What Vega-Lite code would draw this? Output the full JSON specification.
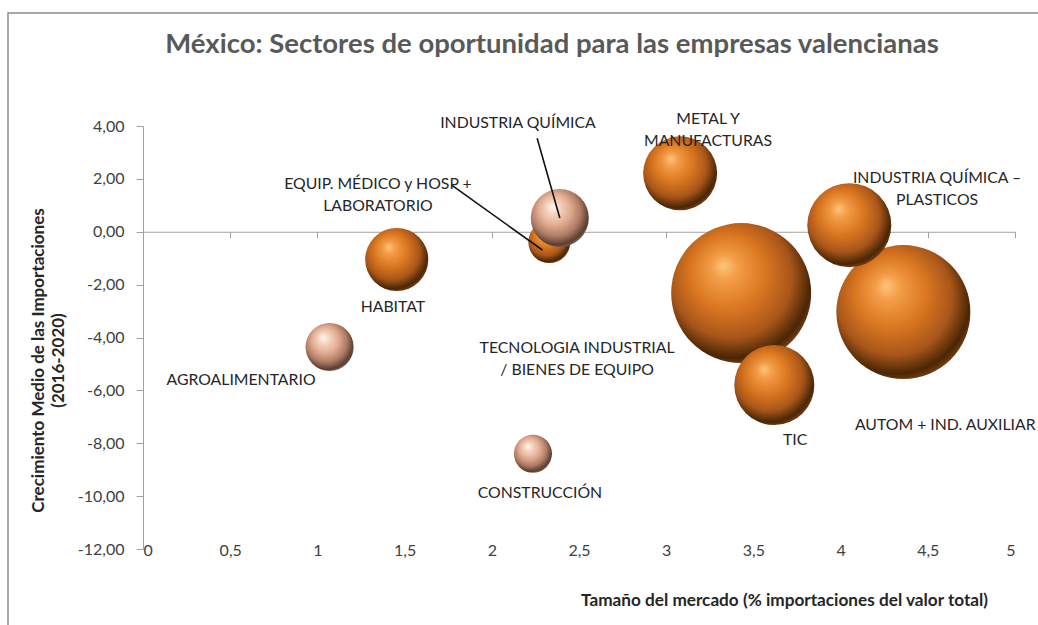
{
  "$schema": "https://vega.github.io/schema/vega-lite/v6.json",
  "width": 1060,
  "height": 630,
  "padding": {"left": 8, "top": 13, "right": 0, "bottom": 0},
  "background": "white",
  "title": {
    "text": "México: Sectores de oportunidad para las empresas valencianas",
    "font": "Lato",
    "fontSize": 27.5,
    "fontWeight": "bold",
    "color": "#595959",
    "anchor": "middle",
    "offset": -45,
    "dx": 14
  },
  "config": {
    "locale": {"number": {"decimal": ",", "thousands": ".", "grouping": [3], "currency": ["", " €"], "minus": "-"}},
    "view": {"stroke": "#8a8a8a", "strokeWidth": 1.5},
    "font": "Lato"
  },
  "datasets": {
    "sectores": [
      {"sector": "TECNOLOGIA INDUSTRIAL / BIENES DE EQUIPO", "mercado": 3.43, "crecimiento": -2.32, "tamano": 100},
      {"sector": "AUTOM + IND. AUXILIAR", "mercado": 4.36, "crecimiento": -3.04, "tamano": 91.6},
      {"sector": "INDUSTRIA QUÍMICA – PLASTICOS", "mercado": 4.05, "crecimiento": 0.25, "tamano": 36},
      {"sector": "TIC", "mercado": 3.62, "crecimiento": -5.8, "tamano": 32.7},
      {"sector": "METAL Y MANUFACTURAS", "mercado": 3.08, "crecimiento": 2.21, "tamano": 27.9},
      {"sector": "HABITAT", "mercado": 1.455, "crecimiento": -1.05, "tamano": 20.3},
      {"sector": "INDUSTRIA QUÍMICA", "mercado": 2.39, "crecimiento": 0.52, "tamano": 17.2},
      {"sector": "AGROALIMENTARIO", "mercado": 1.07, "crecimiento": -4.36, "tamano": 11.8},
      {"sector": "EQUIP. MÉDICO y HOSP + LABORATORIO", "mercado": 2.33, "crecimiento": -0.39, "tamano": 9},
      {"sector": "CONSTRUCCIÓN", "mercado": 2.236, "crecimiento": -8.4, "tamano": 7.4}
    ],
    "etiquetas": [
      {"etiqueta": "AGROALIMENTARIO", "x": 0.562, "y": -5.605},
      {"etiqueta": "HABITAT", "x": 1.433, "y": -2.846},
      {"etiqueta": "CONSTRUCCIÓN", "x": 2.276, "y": -9.877},
      {"etiqueta": "TECNOLOGIA INDUSTRIAL\n/ BIENES DE EQUIPO", "x": 2.489, "y": -4.395},
      {"etiqueta": "TIC", "x": 3.739, "y": -7.873},
      {"etiqueta": "AUTOM + IND. AUXILIAR", "x": 4.6, "y": -7.306},
      {"etiqueta": "INDUSTRIA QUÍMICA –\nPLASTICOS", "x": 4.553, "y": 2.023},
      {"etiqueta": "METAL Y\nMANUFACTURAS", "x": 3.24, "y": 4.262},
      {"etiqueta": "INDUSTRIA QUÍMICA", "x": 2.15, "y": 4.11},
      {"etiqueta": "EQUIP. MÉDICO y HOSP +\nLABORATORIO", "x": 1.347, "y": 1.824}
    ],
    "guias": [
      {"x": 2.26, "y": 3.54, "x2": 2.39, "y2": 0.52},
      {"x": 1.77, "y": 1.76, "x2": 2.29, "y2": -0.69}
    ]
  },
  "resolve": {"axis": {"x": "independent", "y": "independent"}},
  "layer": [
    {
      "data": {"name": "sectores"},
      "transform": [{"filter": {"not": {"field": "sector", "oneOf": ["INDUSTRIA QUÍMICA", "AGROALIMENTARIO", "CONSTRUCCIÓN"]}}}],
      "mark": {
        "type": "point",
        "shape": "circle",
        "filled": true,
        "opacity": 1,
        "strokeWidth": 0,
        "fill": {
          "gradient": "radial",
          "x1": 0.37, "y1": 0.3, "r1": 0,
          "x2": 0.45, "y2": 0.42, "r2": 0.6,
          "stops": [
            {"offset": 0, "color": "#fdc57e"},
            {"offset": 0.16, "color": "#f49c46"},
            {"offset": 0.45, "color": "#d97620"},
            {"offset": 0.72, "color": "#a9561a"},
            {"offset": 0.92, "color": "#4a2605"},
            {"offset": 1, "color": "#7a4214"}
          ]
        }
      },
      "encoding": {
        "x": {
          "field": "mercado", "type": "quantitative",
          "scale": {"domain": [0, 5], "range": [135, 1007], "nice": false, "zero": false},
          "axis": {
            "orient": "bottom", "offset": -102,
            "values": [0, 0.5, 1, 1.5, 2, 2.5, 3, 3.5, 4, 4.5, 5],
            "format": ".1~f",
            "domain": false, "ticks": false, "grid": false,
            "labelPadding": 1, "labelFont": "Lato", "labelFontSize": 16, "labelColor": "#404040",
            "title": "Tamaño del mercado (% importaciones del valor total)",
            "titleFont": "Lato", "titleFontSize": 17.2, "titleFontWeight": "bold", "titleColor": "#262626",
            "titleX": 776, "titleY": 59, "titleAlign": "center", "titleBaseline": "middle"
          }
        },
        "y": {
          "field": "crecimiento", "type": "quantitative",
          "scale": {"domain": [-12, 4], "range": [536, 113], "nice": false, "zero": false},
          "axis": {
            "orient": "left", "offset": -135,
            "values": [-12, -10, -8, -6, -4, -2, 0, 2, 4],
            "format": ".2f",
            "grid": false,
            "domainColor": "#a0a0a0", "tickColor": "#a0a0a0", "tickSize": 7,
            "labelPadding": 12, "labelFont": "Lato", "labelFontSize": 16, "labelColor": "#404040",
            "title": ["Crecimiento Medio de las Importaciones", "(2016-2020)"],
            "titleFont": "Lato", "titleFontSize": 17, "titleFontWeight": "bold", "titleColor": "#262626",
            "titleLineHeight": 20,
            "titleX": -105, "titleY": 347, "titleAlign": "center", "titleBaseline": "middle", "titleAngle": -90
          }
        },
        "size": {"field": "tamano", "type": "quantitative", "scale": {"type": "linear", "domain": [0, 100], "range": [0, 19600]}, "legend": null},
        "order": {"field": "tamano", "sort": "descending"}
      }
    },
    {
      "data": {"name": "sectores"},
      "transform": [{"filter": {"field": "sector", "oneOf": ["INDUSTRIA QUÍMICA", "AGROALIMENTARIO", "CONSTRUCCIÓN"]}}],
      "mark": {
        "type": "point",
        "shape": "circle",
        "filled": true,
        "opacity": 1,
        "strokeWidth": 0,
        "fill": {
          "gradient": "radial",
          "x1": 0.37, "y1": 0.3, "r1": 0,
          "x2": 0.45, "y2": 0.42, "r2": 0.6,
          "stops": [
            {"offset": 0, "color": "#fffaf5"},
            {"offset": 0.16, "color": "#f7d8c6"},
            {"offset": 0.45, "color": "#e2ad92"},
            {"offset": 0.72, "color": "#ad7a64"},
            {"offset": 0.92, "color": "#5a3d31"},
            {"offset": 1, "color": "#8a6a5a"}
          ]
        }
      },
      "encoding": {
        "x": {"field": "mercado", "type": "quantitative", "axis": null},
        "y": {"field": "crecimiento", "type": "quantitative", "axis": null},
        "size": {"field": "tamano", "type": "quantitative", "legend": null},
        "order": {"field": "tamano", "sort": "descending"}
      }
    },
    {
      "data": {"name": "guias"},
      "mark": {"type": "rule", "color": "#111111", "strokeWidth": 1.6},
      "encoding": {
        "x": {
          "field": "x", "type": "quantitative",
          "axis": {
            "orient": "bottom", "offset": -411.25,
            "values": [0, 0.5, 1, 1.5, 2, 2.5, 3, 3.5, 4, 4.5, 5],
            "labels": false, "grid": false, "title": null,
            "domainColor": "#a0a0a0", "tickColor": "#a0a0a0", "tickSize": 6
          }
        },
        "y": {"field": "y", "type": "quantitative", "axis": null},
        "x2": {"field": "x2"},
        "y2": {"field": "y2"}
      }
    },
    {
      "data": {"name": "etiquetas"},
      "mark": {"type": "text", "font": "Lato", "fontSize": 15.8, "color": "#262626", "align": "center", "baseline": "middle", "lineBreak": "\n", "lineHeight": 22},
      "encoding": {
        "x": {"field": "x", "type": "quantitative", "axis": null},
        "y": {"field": "y", "type": "quantitative", "axis": null},
        "text": {"field": "etiqueta"}
      }
    }
  ]
}
